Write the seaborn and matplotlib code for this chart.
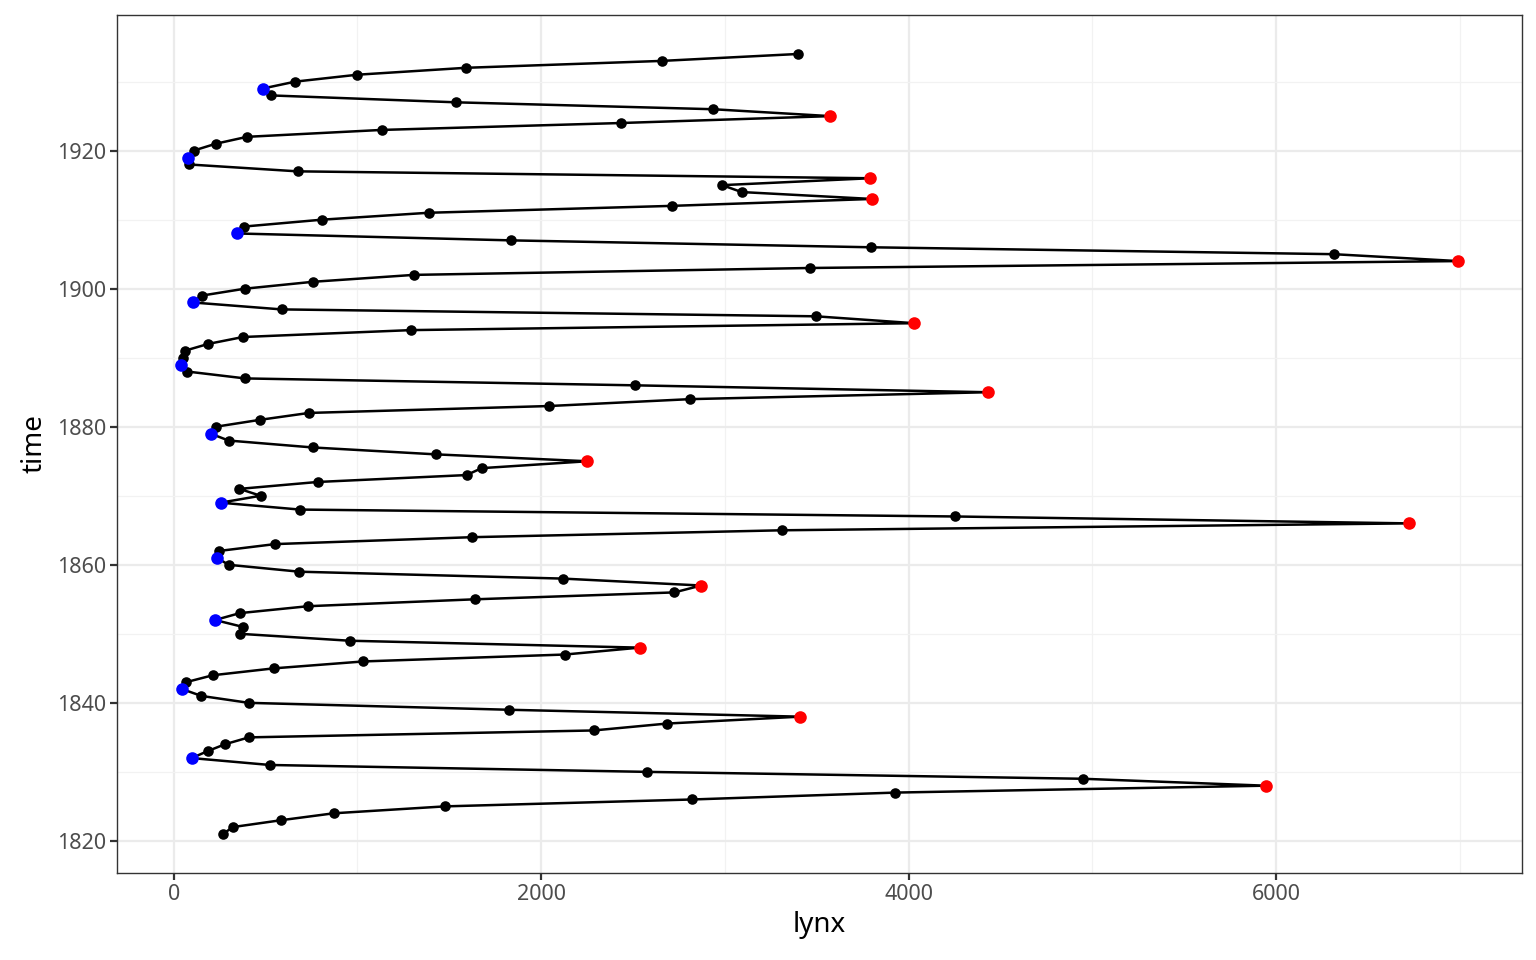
import numpy as np
import pandas as pd
import matplotlib
matplotlib.use("Agg")
import matplotlib.pyplot as plt
import seaborn as sns
from matplotlib.ticker import MultipleLocator

years = list(range(1821, 1935))
lynx = [269, 321, 585, 871, 1475, 2821, 3928, 5943, 4950, 2577, 523, 98, 184, 279, 409,
        2285, 2685, 3409, 1824, 409, 151, 45, 68, 213, 546, 1033, 2129, 2536, 957, 361,
        377, 225, 360, 731, 1638, 2725, 2871, 2119, 684, 299, 236, 245, 552, 1623, 3311,
        6721, 4254, 687, 255, 473, 358, 784, 1594, 1676, 2251, 1426, 756, 299, 201, 229,
        469, 736, 2042, 2811, 4431, 2511, 389, 73, 39, 49, 59, 188, 377, 1292, 4031,
        3495, 587, 105, 153, 387, 758, 1307, 3465, 6991, 6313, 3794, 1836, 345, 382,
        808, 1388, 2713, 3800, 3091, 2985, 3790, 674, 81, 80, 108, 229, 399, 1132,
        2432, 3574, 2935, 1537, 529, 485, 662, 1000, 1590, 2657, 3396]
peak_years = [1828, 1838, 1848, 1857, 1866, 1875, 1885, 1895, 1904, 1913, 1916, 1925]
trough_years = [1832, 1842, 1852, 1861, 1869, 1879, 1889, 1898, 1908, 1919, 1929]

df = pd.DataFrame({"time": years, "lynx": lynx})
peaks = df[df["time"].isin(peak_years)]
troughs = df[df["time"].isin(trough_years)]

sns.set_theme(style="white")
plt.rcParams["font.family"] = ["Noto Sans", "DejaVu Sans"]

fig = plt.figure(figsize=(15.36, 9.6), dpi=100)
ax = fig.add_axes([117 / 1536, 1 - 873 / 960, (1522 - 117) / 1536, (873 - 15) / 960])

sns.lineplot(data=df, x="lynx", y="time", sort=False, estimator=None, color="black",
             linewidth=1.8, ax=ax, zorder=3)
sns.scatterplot(data=df, x="lynx", y="time", color="black", s=58, linewidth=0, ax=ax, zorder=4)
sns.scatterplot(data=peaks, x="lynx", y="time", color="red", s=82, linewidth=0, ax=ax, zorder=5)
sns.scatterplot(data=troughs, x="lynx", y="time", color="blue", s=82, linewidth=0, ax=ax, zorder=5)

span_x = 6991 - 39
ax.set_xlim(39 - 0.05 * span_x, 6991 + 0.05 * span_x)
span_y = 1934 - 1821
ax.set_ylim(1821 - 0.05 * span_y, 1934 + 0.05 * span_y)

ax.xaxis.set_major_locator(MultipleLocator(2000))
ax.xaxis.set_minor_locator(MultipleLocator(1000))
ax.yaxis.set_major_locator(MultipleLocator(20))
ax.yaxis.set_minor_locator(MultipleLocator(10))
ax.grid(True, which="major", color="#ebebeb", linewidth=1.6, zorder=0)
ax.grid(True, which="minor", color="#f2f2f2", linewidth=0.9, zorder=0)
ax.set_axisbelow(True)

for sp in ax.spines.values():
    sp.set_color("#333333")
    sp.set_linewidth(1.0)

ax.tick_params(axis="both", which="major", bottom=True, left=True, length=5, width=1.6,
               color="#333333", labelsize=15.5, labelcolor="#4d4d4d", pad=3)
ax.tick_params(axis="both", which="minor", length=0)
ax.set_xlabel("lynx", fontsize=20, color="black", labelpad=4)
ax.set_ylabel("time", fontsize=20, color="black", labelpad=6)

fig.savefig("out.png", dpi=100, facecolor="white")
